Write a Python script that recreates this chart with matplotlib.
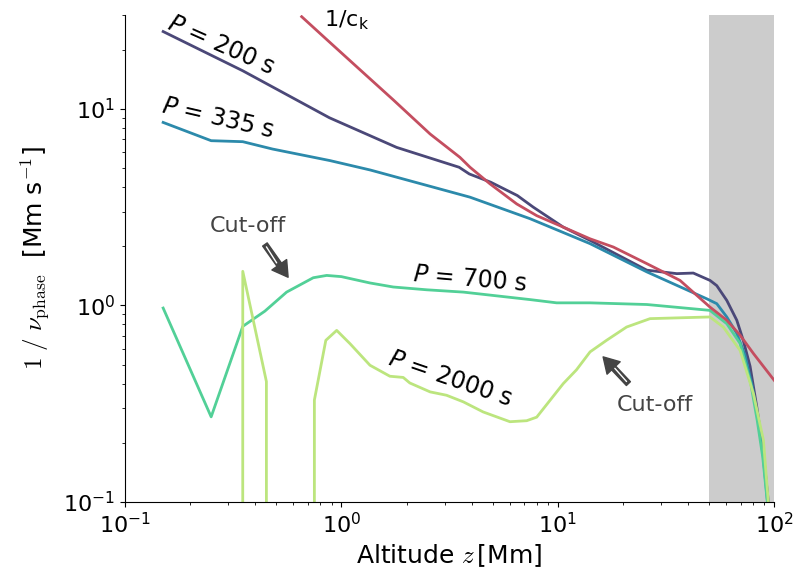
import matplotlib
matplotlib.use("Agg")
import matplotlib.pyplot as plt
import numpy as np

# data (altitude in Mm, 1/v_phase)
z_200 = [0.15, 0.35, 0.88, 1.8, 3.5, 3.9, 4.9, 6.5, 7.7, 10.6, 14.1, 25.8, 35.5, 42.3, 50.5,
         54.3, 60.4, 67.2, 72.1, 77.4, 83.1, 89.2, 94.0, 97.0]
v_200 = [24.7, 15.6, 9.0, 6.36, 5.04, 4.66, 4.23, 3.62, 3.16, 2.5, 2.14, 1.51, 1.45, 1.46, 1.34,
         1.26, 1.06, 0.84, 0.66, 0.49, 0.305, 0.177, 0.1, 0.06]

z_335 = [0.15, 0.25, 0.35, 0.48, 0.885, 1.36, 3.93, 7.44, 14.1, 25.8, 48.8, 54.3, 60.4, 67.2,
         73.4, 79.0, 84.3, 88.9, 93.2, 96.0]
v_335 = [8.52, 6.88, 6.80, 6.24, 5.45, 4.88, 3.55, 2.76, 2.06, 1.48, 1.08, 1.02, 0.873, 0.72,
         0.557, 0.393, 0.26, 0.173, 0.1, 0.06]

z_700 = [0.15, 0.25, 0.35, 0.443, 0.558, 0.741, 0.855, 1.0, 1.355, 1.736, 2.48, 3.66, 7.44,
         9.88, 14.1, 25.8, 50.5, 60.4, 69.6, 78.0, 83.5, 88.5, 93.0, 96.0]
v_700 = [0.969, 0.271, 0.782, 0.935, 1.168, 1.382, 1.42, 1.40, 1.30, 1.24, 1.20, 1.168, 1.07,
         1.03, 1.03, 1.01, 0.943, 0.807, 0.64, 0.40, 0.26, 0.17, 0.1, 0.06]

z_2000 = [0.15, 0.25, 0.35, 0.45, 0.55, 0.65, 0.75, 0.847, 0.951, 1.057, 1.095, 1.355, 1.675,
          1.93, 2.07, 2.57, 3.06, 3.66, 4.52, 6.01, 7.18, 7.99, 10.6, 12.2, 14.1, 16.8, 20.8,
          26.7, 50.5, 58.2, 69.6, 80.2, 89.2, 94.0, 96.0]
v_2000 = [0, 0, 1.49, 0.41, 0, 0, 0.33, 0.664, 0.746, 0.664, 0.639, 0.496, 0.436,
          0.43, 0.403, 0.363, 0.349, 0.323, 0.287, 0.256, 0.259, 0.27, 0.40, 0.47, 0.58, 0.664,
          0.776, 0.856, 0.873, 0.776, 0.59, 0.356, 0.206, 0.1, 0.06]

z_ck = [0.655, 0.855, 1.218, 1.736, 2.57, 3.53, 3.93, 4.86, 6.46, 7.99, 10.6, 14.1,
        18.06, 25.8, 36.7, 50.5, 60.4, 69.6, 80.2, 100.0]
v_ck = [29.4, 22.5, 15.8, 11.1, 7.44, 5.66, 5.04, 4.15, 3.28, 2.86, 2.50, 2.18,
        1.98, 1.63, 1.34, 0.98, 0.84, 0.705, 0.569, 0.416]

fig = plt.figure(figsize=(7.94, 5.75), dpi=100)
ax = fig.add_axes([0.1575, 0.127, 0.8175, 0.847])

ax.axvspan(50, 100, color='#cccccc', lw=0)

ax.plot(z_200, v_200, color='#4b4878', lw=2)
ax.plot(z_335, v_335, color='#2c8aab', lw=2)
ax.plot(z_700, v_700, color='#52d097', lw=2)
ax.plot(z_2000, v_2000, color='#bce57e', lw=2)
ax.plot(z_ck, v_ck, color='#c44e60', lw=2)

ax.set_xscale('log')
ax.set_yscale('log')
ax.set_xlim(0.1, 100)
ax.set_ylim(0.1, 30)

for s in ['top', 'right']:
    ax.spines[s].set_visible(False)
ax.tick_params(labelsize=16)

ax.set_xlabel(r'Altitude $z\,$[Mm]', fontsize=18, math_fontfamily='cm')
ax.set_ylabel(r'$1\ /\ \nu_{\rm phase}$  [Mm s$^{-1}$]', fontsize=18, math_fontfamily='cm',
              labelpad=8)

# curve labels
ax.text(0.277, 21.1, r'$P$ = 200 s', fontsize=17, rotation=-24, ha='center', va='center')
ax.text(0.268, 9.0, r'$P$ = 335 s', fontsize=17, rotation=-13, ha='center', va='center')
ax.text(3.93, 1.355, r'$P$ = 700 s', fontsize=17, rotation=-5, ha='center', va='center')
ax.text(3.18, 0.426, r'$P$ = 2000 s', fontsize=17, rotation=-19, ha='center', va='center')
ax.text(1.06, 28.3, r'1/c$_{\rm k}$', fontsize=16, ha='center', va='center')

# cut-off arrows
arrow = dict(width=4, headwidth=13, headlength=11, fc='#444444', ec='#444444')
ax.annotate('', xy=(0.567, 1.39), xytext=(0.443, 2.04), arrowprops=arrow)
ax.annotate('', xy=(0.51, 1.6), xytext=(0.443, 2.04),
            arrowprops=dict(arrowstyle='-', color='white', lw=1))
ax.text(0.37, 2.52, 'Cut-off', fontsize=16, color='#444444', ha='center', va='center')

ax.annotate('', xy=(16.2, 0.547), xytext=(21.2, 0.40), arrowprops=arrow)
ax.annotate('', xy=(18.0, 0.49), xytext=(21.2, 0.40),
            arrowprops=dict(arrowstyle='-', color='white', lw=1))
ax.text(28.1, 0.31, 'Cut-off', fontsize=16, color='#444444', ha='center', va='center')

fig.savefig('out.png', dpi=100)
